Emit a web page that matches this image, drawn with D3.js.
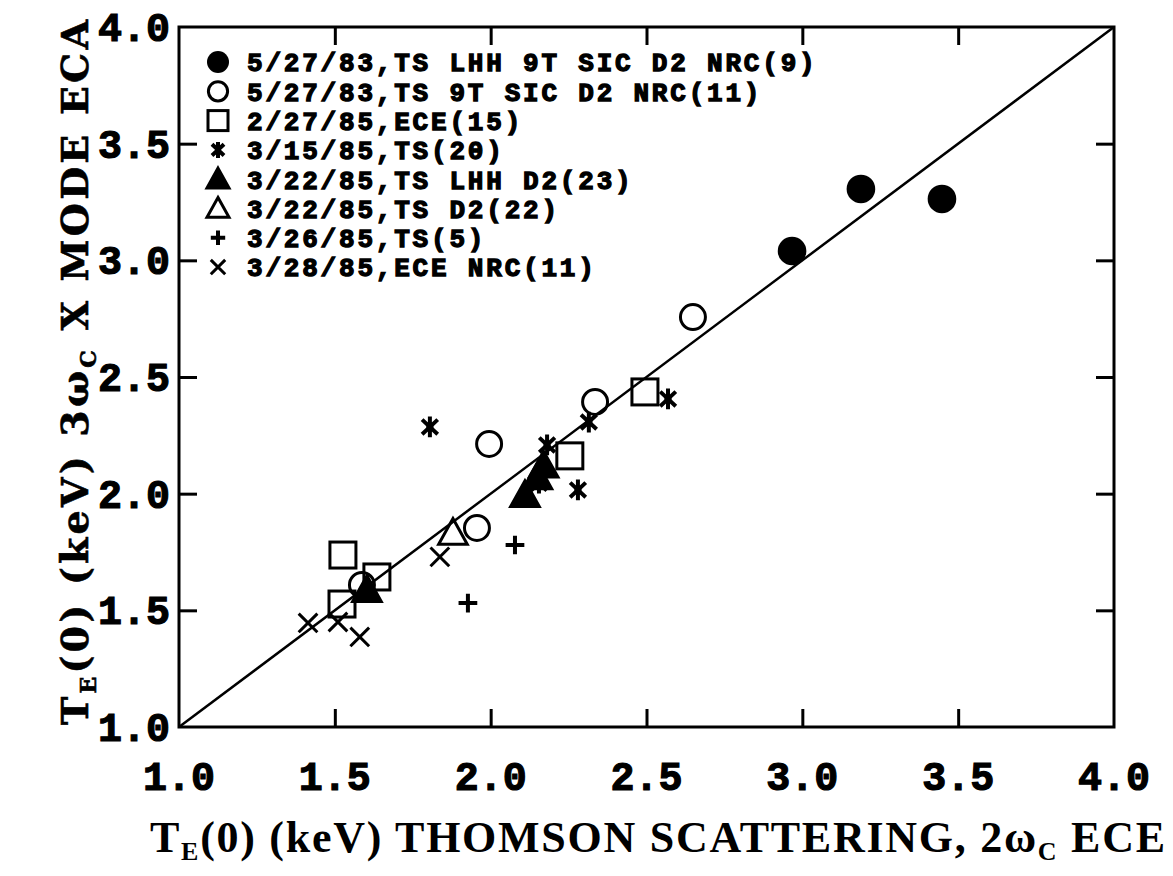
<!DOCTYPE html>
<html><head><meta charset="utf-8">
<script src="https://cdn.jsdelivr.net/npm/d3@7"></script>
<style>body{margin:0;background:#fff}</style>
</head><body>
<svg id="c" width="1173" height="876"></svg>
<script>
const xTicks = [1.0, 1.5, 2.0, 2.5, 3.0, 3.5, 4.0];
const yTicks = [1.0, 1.5, 2.0, 2.5, 3.0, 3.5, 4.0];
const tickLabels = ["1.0","1.5","2.0","2.5","3.0","3.5","4.0"];
const seriesNames = [
  "5/27/83,TS LHH 9T SIC D2 NRC(9)",
  "5/27/83,TS 9T SIC D2 NRC(11)",
  "2/27/85,ECE(15)",
  "3/15/85,TS(20)",
  "3/22/85,TS LHH D2(23)",
  "3/22/85,TS D2(22)",
  "3/26/85,TS(5)",
  "3/28/85,ECE NRC(11)"
];
const seriesSymbols = ["fcircle","ocircle","square","asterisk","ftriangle","otriangle","plus","cross"];
const filledCircle = [[2.967,3.04],[3.188,3.306],[3.448,3.263]];
const openCircle = [[2.649,2.757],[2.335,2.393],[1.995,2.213],[1.956,1.853],[1.587,1.609]];
const squares = [[2.495,2.436],[2.254,2.162],[1.526,1.737],[1.635,1.643],[1.523,1.527]];
const asterisks = [[1.805,2.286],[2.569,2.406],[2.315,2.307],[2.181,2.209],[2.28,2.016],[2.155,2.045]];
const filledTriangle = [[2.11,1.994],[2.15,2.07],[2.17,2.12],[1.603,1.587]];
const openTriangle = [[1.879,1.832]];
const pluses = [[2.078,1.78],[1.927,1.531]];
const crosses = [[1.837,1.729],[1.414,1.446],[1.51,1.45],[1.58,1.386]];
const seriesData = [filledCircle, openCircle, squares, asterisks, filledTriangle, openTriangle, pluses, crosses];

const svg = d3.select("#c");
const L=179, R=1114, T=27, B=727;
const x = d3.scaleLinear().domain([1,4]).range([L,R]);
const y = d3.scaleLinear().domain([1,4]).range([B,T]);

function drawSym(g, type, cx, cy, s){
  const sw = 3;
  if(type==="fcircle"){ g.append("circle").attr("cx",cx).attr("cy",cy).attr("r",s*0.55).attr("fill","#000"); }
  else if(type==="ocircle"){ g.append("circle").attr("cx",cx).attr("cy",cy).attr("r",s*0.48).attr("fill","none").attr("stroke","#000").attr("stroke-width",sw); }
  else if(type==="square"){ const h=s*0.5; g.append("rect").attr("x",cx-h).attr("y",cy-h).attr("width",2*h).attr("height",2*h).attr("fill","none").attr("stroke","#000").attr("stroke-width",sw); }
  else if(type==="ftriangle"||type==="otriangle"){ const h=s*0.55;
    const p=[[cx,cy-h],[cx+h,cy+h*0.8],[cx-h,cy+h*0.8]];
    g.append("path").attr("d","M"+p.map(q=>q.join(",")).join("L")+"Z")
      .attr("fill",type==="ftriangle"?"#000":"none").attr("stroke","#000").attr("stroke-width",sw).attr("stroke-linejoin","miter"); }
  else if(type==="plus"){ const h=s*0.36; g.append("path").attr("d",`M${cx-h},${cy}L${cx+h},${cy}M${cx},${cy-h}L${cx},${cy+h}`).attr("stroke","#000").attr("stroke-width",4); }
  else if(type==="cross"){ const h=s*0.36; g.append("path").attr("d",`M${cx-h},${cy-h}L${cx+h},${cy+h}M${cx+h},${cy-h}L${cx-h},${cy+h}`).attr("stroke","#000").attr("stroke-width",3); }
  else if(type==="asterisk"){ const h=s*0.4; const w=s*0.3;
    g.append("path").attr("d",`M${cx},${cy-h}L${cx},${cy+h}M${cx-w},${cy-h*0.7}L${cx+w},${cy+h*0.7}M${cx+w},${cy-h*0.7}L${cx-w},${cy+h*0.7}`).attr("stroke","#000").attr("stroke-width",4);
    g.append("circle").attr("cx",cx).attr("cy",cy).attr("r",s*0.14).attr("fill","#000"); }
}

// diagonal
svg.append("line").attr("x1",x(1)).attr("y1",y(1)).attr("x2",x(4)).attr("y2",y(4)).attr("stroke","#000").attr("stroke-width",2.5);

// frame
svg.append("rect").attr("x",L).attr("y",T).attr("width",R-L).attr("height",B-T).attr("fill","none").attr("stroke","#000").attr("stroke-width",3);

// axes (ticks inward)
const tl=18;
svg.append("g").attr("transform",`translate(0,${B})`).call(d3.axisTop(x).tickValues(xTicks.slice(1,-1)).tickSize(tl).tickFormat(""));
svg.append("g").attr("transform",`translate(0,${T})`).call(d3.axisBottom(x).tickValues(xTicks.slice(1,-1)).tickSize(tl).tickFormat(""));
svg.append("g").attr("transform",`translate(${L},0)`).call(d3.axisRight(y).tickValues(yTicks.slice(1,-1)).tickSize(tl).tickFormat(""));
svg.append("g").attr("transform",`translate(${R},0)`).call(d3.axisLeft(y).tickValues(yTicks.slice(1,-1)).tickSize(tl).tickFormat(""));
svg.selectAll(".domain").remove();
svg.selectAll(".tick line").attr("stroke","#000").attr("stroke-width",3);

const monoFont = "'Liberation Mono', 'DejaVu Sans Mono', monospace";
// tick labels
svg.append("g").selectAll("text").data(xTicks).join("text")
  .attr("x",d=>x(d)).attr("y",790).attr("text-anchor","middle")
  .attr("font-family",monoFont).attr("font-weight","bold").attr("font-size",40)
  .attr("stroke","#000").attr("stroke-width",1.2).text((d,i)=>tickLabels[i]);
svg.append("g").selectAll("text").data(yTicks).join("text")
  .attr("x",170).attr("y",d=>y(d)).attr("dy","0.35em").attr("text-anchor","end")
  .attr("font-family",monoFont).attr("font-weight","bold").attr("font-size",40)
  .attr("stroke","#000").attr("stroke-width",1.2).text((d,i)=>tickLabels[i]);

// data points
const pg = svg.append("g");
seriesData.forEach((arr,i)=>{
  arr.forEach(d=>drawSym(pg, seriesSymbols[i], x(d[0]), y(d[1]), 26));
});

// legend
const lg = svg.append("g");
seriesNames.forEach((n,i)=>{
  const cy = 62 + i*29.3;
  drawSym(lg, seriesSymbols[i], 218, cy, 20);
  lg.append("text").attr("x",247).attr("y",cy).attr("dy","0.36em")
    .attr("font-family",monoFont).attr("font-weight","bold").attr("font-size",26)
    .attr("letter-spacing",2.8)
    .attr("stroke","#000").attr("stroke-width",1.3).text(n);
});

// x-axis title
const xt = svg.append("text").attr("x",150).attr("y",852)
  .attr("font-family","'Liberation Serif', 'DejaVu Serif', serif").attr("font-weight","bold").attr("font-size",44)
  .attr("textLength",1015).attr("lengthAdjust","spacing");
xt.append("tspan").text("T");
xt.append("tspan").attr("font-size",26).attr("dy",8).text("E");
xt.append("tspan").attr("dy",-8).text("(0) (keV) THOMSON SCATTERING, 2ω");
xt.append("tspan").attr("font-size",26).attr("dy",8).text("C");
xt.append("tspan").attr("dy",-8).text(" ECE");

// y-axis title
const yt = svg.append("text").attr("transform","translate(88,725) rotate(-90)")
  .attr("font-family","'DejaVu Serif', serif").attr("font-weight","bold").attr("font-size",38)
  .attr("stroke","#000").attr("stroke-width",0.6)
  .attr("textLength",705).attr("lengthAdjust","spacing");
yt.append("tspan").text("T");
yt.append("tspan").attr("font-size",22).attr("dy",8).text("E");
yt.append("tspan").attr("dy",-8).text("(0) (keV) 3ω");
yt.append("tspan").attr("font-size",22).attr("dy",8).text("C");
yt.append("tspan").attr("dy",-8).text(" X MODE ECA");
</script>
</body></html>
